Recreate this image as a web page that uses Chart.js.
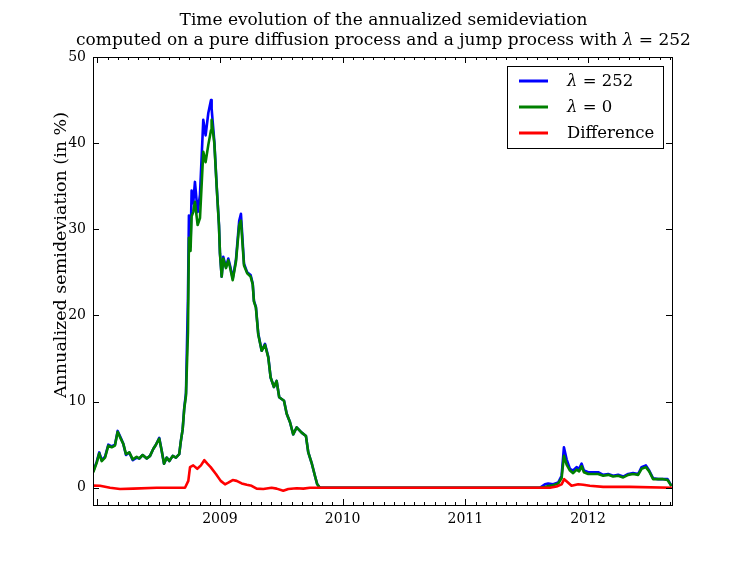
<!DOCTYPE html>
<html>
<head>
<meta charset="utf-8">
<script src="https://cdn.jsdelivr.net/npm/chart.js@4.4.0/dist/chart.umd.min.js"></script>
<style>
  html, body { margin: 0; padding: 0; background: #fff; }
</style>
</head>
<body>
<canvas id="chart" width="747" height="561"></canvas>
<script>
// Fechas en años fraccionarios
const mainDates = [
    2007.967, 2007.995, 2008.016, 2008.036, 2008.063, 2008.090, 2008.117, 2008.144, 2008.166, 2008.191,
    2008.212, 2008.234, 2008.261, 2008.289, 2008.321, 2008.342, 2008.370, 2008.403, 2008.430, 2008.456,
    2008.478, 2008.505, 2008.525, 2008.544, 2008.566, 2008.587, 2008.615, 2008.641, 2008.668, 2008.680,
    2008.696, 2008.709, 2008.723,
    2008.739, 2008.747, 2008.760, 2008.769, 2008.782, 2008.796, 2008.818, 2008.837, 2008.864, 2008.883,
    2008.905, 2008.927, 2008.932, 2008.954, 2008.973, 2008.992,
    2009.000, 2009.014, 2009.027, 2009.049, 2009.068, 2009.082, 2009.104, 2009.130, 2009.157, 2009.171,
    2009.196, 2009.222, 2009.250, 2009.267, 2009.277, 2009.293, 2009.312, 2009.340, 2009.367, 2009.394,
    2009.413, 2009.440, 2009.462, 2009.483, 2009.522, 2009.544, 2009.571, 2009.597, 2009.625, 2009.666,
    2009.701, 2009.720, 2009.747, 2009.774, 2009.793, 2009.815,
    2011.608, 2011.649, 2011.676, 2011.716, 2011.757, 2011.785, 2011.804, 2011.826, 2011.853, 2011.879,
    2011.907, 2011.928, 2011.948, 2011.967, 2012.002, 2012.042, 2012.083, 2012.124, 2012.165, 2012.205,
    2012.246, 2012.287, 2012.328, 2012.368, 2012.409, 2012.437, 2012.472, 2012.499, 2012.531, 2012.572,
    2012.613, 2012.649, 2012.681
];

// lambda = 252
const jumpValues = [
    1.9, 3.0, 4.1, 3.2, 3.6, 5.0, 4.8, 5.0, 6.6, 5.8, 5.1, 3.8, 4.1, 3.2, 3.5, 3.4, 3.8, 3.4, 3.7, 4.5,
    5.0, 5.8, 4.3, 2.8, 3.5, 3.1, 3.7, 3.5, 3.9, 5.3, 6.8, 9.3, 11.0,
    22.0, 31.6, 28.0, 34.5, 33.0, 35.5, 32.0, 34.0, 42.7, 40.9, 43.5, 45.0, 44.0, 40.2, 35.1, 30.5,
    27.2, 24.5, 26.8, 25.6, 26.6, 25.8, 24.3, 26.4, 31.0, 31.8, 26.0, 25.0, 24.7, 23.7, 21.7, 21.0,
    17.9, 15.9, 16.7, 15.2, 12.8, 11.7, 12.4, 10.5, 10.1, 8.6, 7.6, 6.2, 7.0, 6.4, 6.0, 4.1, 2.9, 1.4, 0.4, 0.0,
    0.0, 0.4, 0.5, 0.4, 0.6, 1.4, 4.7, 3.3, 2.2, 2.0, 2.4, 2.2, 2.8, 2.0, 1.8, 1.8, 1.8, 1.5, 1.6, 1.4,
    1.5, 1.3, 1.6, 1.7, 1.6, 2.4, 2.6, 2.0, 1.1, 1.0, 1.0, 1.0, 0.2
];

// lambda = 0
const diffusionValues = [
    1.8, 2.9, 4.0, 3.1, 3.5, 4.9, 4.7, 4.9, 6.5, 5.7, 5.1, 3.9, 4.1, 3.3, 3.6, 3.4, 3.8, 3.4, 3.7, 4.5,
    5.0, 5.7, 4.3, 2.8, 3.5, 3.1, 3.7, 3.5, 3.9, 5.3, 6.8, 9.2, 10.7,
    18.0, 29.0, 27.5, 31.5, 32.0, 33.2, 30.5, 31.3, 39.0, 37.8, 39.8, 41.5, 42.7, 40.0, 35.0, 30.4,
    27.2, 24.5, 26.6, 25.5, 26.4, 25.6, 24.1, 26.2, 30.5, 31.0, 25.8, 24.9, 24.5, 23.6, 21.6, 20.9,
    17.8, 15.9, 16.6, 15.1, 12.8, 11.7, 12.4, 10.5, 10.1, 8.6, 7.6, 6.2, 7.0, 6.4, 6.0, 4.1, 2.9, 1.4, 0.4, 0.0,
    0.0, 0.1, 0.2, 0.3, 0.5, 1.1, 3.7, 2.7, 2.0, 1.7, 2.1, 1.9, 2.5, 1.8, 1.6, 1.6, 1.6, 1.4, 1.5, 1.3,
    1.4, 1.2, 1.5, 1.6, 1.5, 2.2, 2.4, 1.9, 1.0, 1.0, 1.0, 0.9, 0.2
];

// Diferencia
const diffDates = [
    2007.967, 2008.022, 2008.104, 2008.185, 2008.293, 2008.484, 2008.715, 2008.742, 2008.756, 2008.782,
    2008.815, 2008.845, 2008.872, 2008.897, 2008.924, 2008.967, 2009.006, 2009.041, 2009.068, 2009.104,
    2009.136, 2009.177, 2009.218, 2009.258, 2009.299, 2009.353, 2009.421, 2009.462, 2009.516, 2009.557,
    2009.625, 2009.679, 2009.733, 2011.689, 2011.744, 2011.785, 2011.806, 2011.830, 2011.866, 2011.920,
    2011.961, 2012.015, 2012.124, 2012.341, 2012.684
];
const diffValues = [
    0.25, 0.23, 0.0, -0.15, -0.1, 0.0, 0.0, 0.8, 2.4, 2.6,
    2.2, 2.6, 3.2, 2.8, 2.4, 1.6, 0.8, 0.4, 0.6, 0.9,
    0.8, 0.5, 0.35, 0.23, -0.1, -0.15, 0.0, -0.1, -0.35, -0.15,
    -0.05, -0.1, 0.0, 0.0, 0.15, 0.4, 1.0, 0.7, 0.23, 0.4,
    0.35, 0.23, 0.1, 0.1, 0.0
];

const yearTicks = [2009, 2010, 2011, 2012];
const valueTicks = [0, 10, 20, 30, 40, 50];
const seriesLabels = ['λ = 252', 'λ = 0', 'Difference'];
const seriesColors = ['#0000ff', '#008000', '#ff0000'];

const xMin = 2007.965;
const xMax = 2012.685;
const serif = '"DejaVu Serif", "Liberation Serif", serif';

function toPoints(xs, ys) {
    return xs.map((x, i) => ({ x: x, y: ys[i] }));
}

// Texto con lambda en cursiva
function drawRich(ctx, parts, x, y, size, align) {
    let total = 0;
    parts.forEach(p => {
        ctx.font = (p.italic ? 'italic ' : '') + size + 'px ' + serif;
        p.w = ctx.measureText(p.t).width;
        total += p.w;
    });
    let cx = align === 'center' ? x - total / 2 : x;
    ctx.textAlign = 'left';
    parts.forEach(p => {
        ctx.font = (p.italic ? 'italic ' : '') + size + 'px ' + serif;
        ctx.fillText(p.t, cx, y);
        cx += p.w;
    });
}

function lambdaParts(text) {
    if (text.indexOf('λ') < 0) return [{ t: text }];
    const i = text.indexOf('λ');
    return [{ t: text.slice(0, i) }, { t: 'λ', italic: true }, { t: text.slice(i + 1) }];
}

const decorPlugin = {
    id: 'decor',
    afterDraw(chart) {
        const ctx = chart.ctx;
        const area = chart.chartArea;
        const xs = chart.scales.x;
        const ys = chart.scales.y;
        ctx.save();
        ctx.strokeStyle = '#000';
        ctx.lineWidth = 1;
        ctx.strokeRect(area.left + 0.5, area.top + 0.5, area.right - area.left, area.bottom - area.top);

        // marcas mensuales hacia dentro
        ctx.beginPath();
        for (let yr = 2007; yr <= 2013; yr++) {
            for (let m = 0; m < 12; m++) {
                const v = yr + m / 12;
                if (v < xMin || v > xMax) continue;
                const px = Math.round(xs.getPixelForValue(v)) + 0.5;
                const len = m === 0 ? 6 : 3;
                ctx.moveTo(px, area.bottom);
                ctx.lineTo(px, area.bottom - len);
                ctx.moveTo(px, area.top);
                ctx.lineTo(px, area.top + len);
            }
        }
        valueTicks.forEach(v => {
            const py = Math.round(ys.getPixelForValue(v)) + 0.5;
            ctx.moveTo(area.left, py);
            ctx.lineTo(area.left + 6, py);
            ctx.moveTo(area.right, py);
            ctx.lineTo(area.right - 6, py);
        });
        ctx.stroke();

        // título
        ctx.fillStyle = '#000';
        ctx.textBaseline = 'alphabetic';
        const cx = (area.left + area.right) / 2 + 1;
        drawRich(ctx, [{ t: 'Time evolution of the annualized semideviation' }], cx, 25, 17, 'center');
        drawRich(ctx, lambdaParts('computed on a pure diffusion process and a jump process with λ = 252'), cx, 45, 17, 'center');

        // título del eje y
        ctx.save();
        ctx.translate(66, 255);
        ctx.rotate(-Math.PI / 2);
        drawRich(ctx, [{ t: 'Annualized semideviation (in %)' }], 0, 0, 17.5, 'center');
        ctx.restore();

        // leyenda
        const lx = area.right - 165;
        const ly = area.top + 9;
        ctx.strokeRect(lx + 0.5, ly + 0.5, 156, 82);
        seriesLabels.forEach((label, i) => {
            const rowY = ly + 15 + i * 26;
            ctx.strokeStyle = seriesColors[i];
            ctx.lineWidth = 3;
            ctx.beginPath();
            ctx.moveTo(lx + 12, rowY);
            ctx.lineTo(lx + 41, rowY);
            ctx.stroke();
            ctx.fillStyle = '#000';
            ctx.textBaseline = 'middle';
            drawRich(ctx, lambdaParts(label), lx + 60, rowY + 1, 16.5, 'left');
        });
        ctx.restore();
    }
};

const ctx = document.getElementById('chart').getContext('2d');
const chart = new Chart(ctx, {
    type: 'line',
    data: {
        datasets: [{
            label: seriesLabels[0],
            data: toPoints(mainDates, jumpValues),
            borderColor: seriesColors[0],
            order: 3
        }, {
            label: seriesLabels[1],
            data: toPoints(mainDates, diffusionValues),
            borderColor: seriesColors[1],
            order: 2
        }, {
            label: seriesLabels[2],
            data: toPoints(diffDates, diffValues),
            borderColor: seriesColors[2],
            order: 1
        }]
    },
    options: {
        responsive: false,
        animation: false,
        elements: {
            line: { borderWidth: 2.6, tension: 0, fill: false, borderJoinStyle: 'round' },
            point: { radius: 0 }
        },
        layout: { padding: { top: 57, right: 75, left: 0, bottom: 0 } },
        plugins: {
            legend: { display: false },
            tooltip: { enabled: false }
        },
        scales: {
            x: {
                type: 'linear',
                min: xMin,
                max: xMax,
                grid: { display: false, drawTicks: false },
                border: { display: false },
                afterBuildTicks: (scale) => { scale.ticks = yearTicks.map(v => ({ value: v })); },
                afterFit: (scale) => { scale.height = 56; },
                ticks: {
                    color: '#000',
                    padding: 6,
                    maxRotation: 0,
                    font: { family: serif, size: 14 },
                    callback: (v) => String(v)
                }
            },
            y: {
                min: -2,
                max: 50,
                grid: { display: false, drawTicks: false },
                border: { display: false },
                afterBuildTicks: (scale) => { scale.ticks = valueTicks.map(v => ({ value: v })); },
                afterFit: (scale) => { scale.width = 93; },
                ticks: {
                    color: '#000',
                    padding: 7,
                    font: { family: serif, size: 14 }
                }
            }
        }
    },
    plugins: [decorPlugin]
});
</script>
</body>
</html>
